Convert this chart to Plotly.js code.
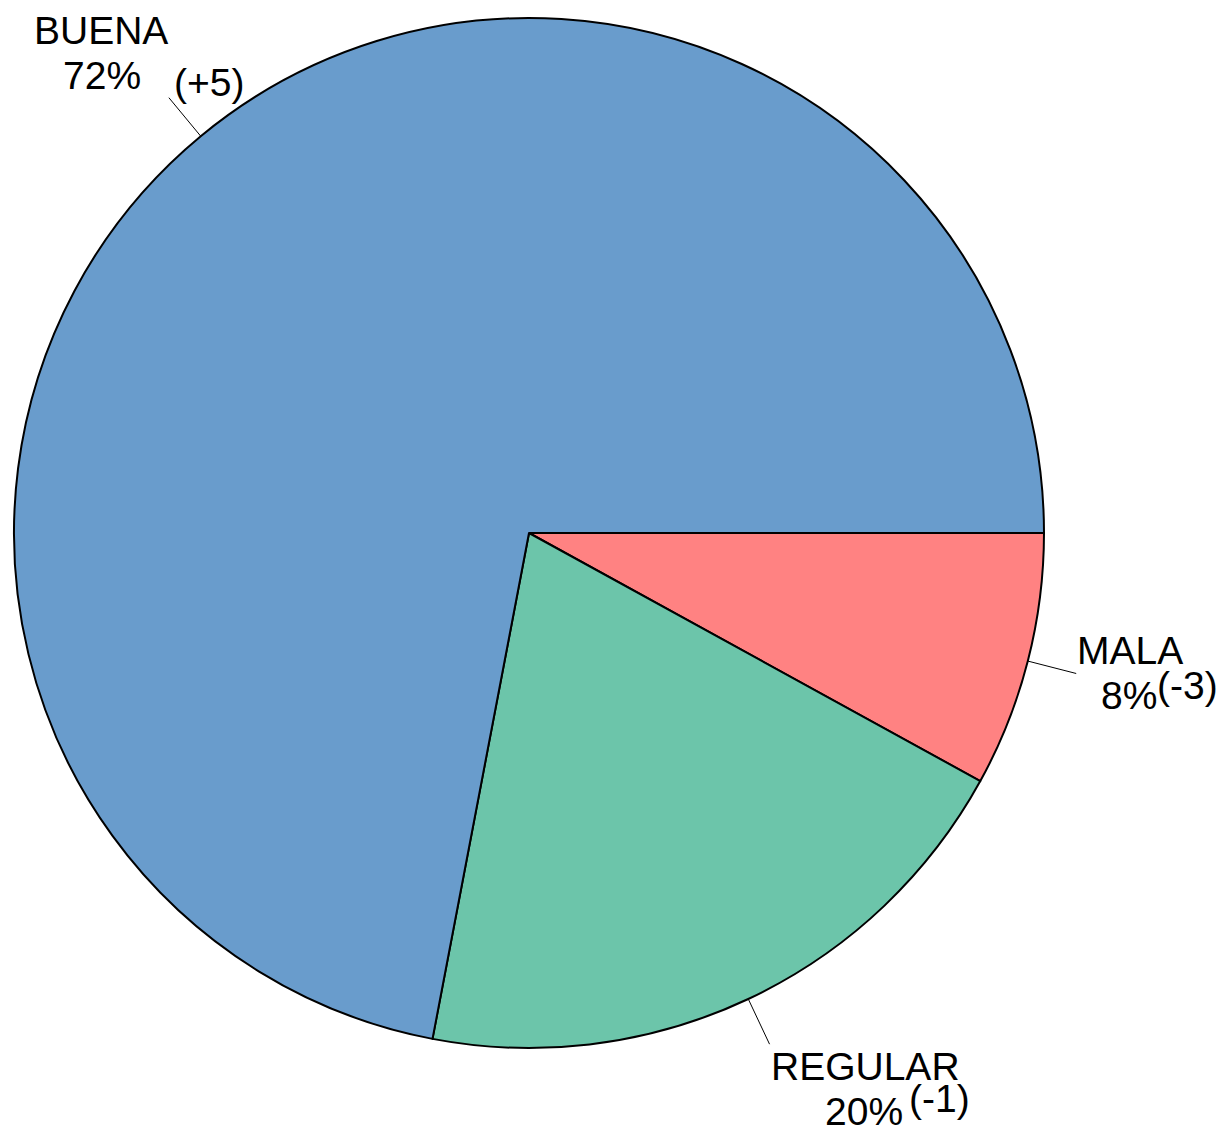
<!DOCTYPE html>
<html>
<head>
<meta charset="utf-8">
<script src="https://cdn.plot.ly/plotly-3.0.1.min.js"></script>
<style>
  html, body { margin: 0; padding: 0; background: #ffffff; }
  #chart { width: 1223px; height: 1131px; }
</style>
</head>
<body>
<div id="chart"></div>
<script>
// ---- data ----
const categories = ["MALA", "REGULAR", "BUENA"];
const percentages = [8, 20, 72];
const changes = ["(-3)", "(-1)", "(+5)"];

// ---- style ----
const colors = ["#ff8282", "#6cc5aa", "#699ccc"];
const FONT = "Liberation Sans, Arial, sans-serif";
const FS = 39;
const LINE_GAP = 45;          // distance between the two label lines (px)
const leaderOut = 1.097;      // leader line end as a fraction of radius
// label anchors per slice (screen layout)
const labelAnchor = [
  {xanchor: "left",  yanchor: "middle"},
  {xanchor: "left",  yanchor: "top"},
  {xanchor: "right", yanchor: "bottom"}
];
// pixel offsets of the change text relative to the leader end
const changeShift = [[111, -12], [170, -54], [40, 15]];

// text width measurement for centring the second line under the first
const ctx = document.createElement("canvas").getContext("2d");
ctx.font = FS + "px 'Liberation Sans', Arial, sans-serif";
function textWidth(s) { return ctx.measureText(s).width; }

const total = percentages.reduce((a, b) => a + b, 0);
const shapes = [];
const annotations = [];
let cum = 0;
percentages.forEach((v, i) => {
  const mid = (cum + v / 2) / total * 2 * Math.PI; // clockwise from 3 o'clock
  cum += v;
  const cx = Math.cos(mid), sy = Math.sin(mid);
  const r0 = 0.5, r1 = 0.5 * leaderOut;
  const x0 = 0.5 + r0 * cx, y0 = 0.5 - r0 * sy;
  const x1 = 0.5 + r1 * cx, y1 = 0.5 - r1 * sy;
  shapes.push({type: "line", xref: "paper", yref: "paper",
    x0: x0, y0: y0, x1: x1, y1: y1, line: {color: "#000000", width: 1}});

  const name = categories[i];
  const pct = percentages[i] + "%";
  const w = textWidth(name);
  const a = labelAnchor[i];
  const sign = a.xanchor === "left" ? 1 : -1;
  let nameShift, pctShift;
  if (a.yanchor === "top") { nameShift = 0; pctShift = -LINE_GAP; }
  else if (a.yanchor === "bottom") { nameShift = LINE_GAP; pctShift = 0; }
  else { nameShift = LINE_GAP / 2; pctShift = -LINE_GAP / 2; }

  annotations.push({xref: "paper", yref: "paper", x: x1, y: y1,
    text: name, showarrow: false, xanchor: a.xanchor, yanchor: a.yanchor,
    yshift: nameShift,
    font: {family: FONT, size: FS, color: "#000000"}, borderpad: 0});
  annotations.push({xref: "paper", yref: "paper", x: x1, y: y1,
    text: pct, showarrow: false, xanchor: "center", yanchor: a.yanchor,
    xshift: sign * w / 2, yshift: pctShift,
    font: {family: FONT, size: FS, color: "#000000"}, borderpad: 0});
  annotations.push({xref: "paper", yref: "paper", x: x1, y: y1,
    text: changes[i], showarrow: false, xanchor: "center", yanchor: "middle",
    xshift: changeShift[i][0], yshift: changeShift[i][1],
    font: {family: FONT, size: FS, color: "#000000"}, borderpad: 0});
});

const trace = {
  type: "pie",
  labels: categories,
  values: percentages,
  sort: false,
  direction: "clockwise",
  rotation: 90,
  textinfo: "none",
  hoverinfo: "label+percent",
  marker: {colors: colors, line: {color: "#000000", width: 2}},
  domain: {x: [0, 1], y: [0, 1]}
};

const layout = {
  width: 1223, height: 1131,
  margin: {l: 14, r: 179, t: 18, b: 83, pad: 0},
  showlegend: false,
  paper_bgcolor: "#ffffff",
  plot_bgcolor: "#ffffff",
  shapes: shapes,
  annotations: annotations
};

Plotly.newPlot("chart", [trace], layout, {displayModeBar: false, staticPlot: true});
</script>
</body>
</html>
